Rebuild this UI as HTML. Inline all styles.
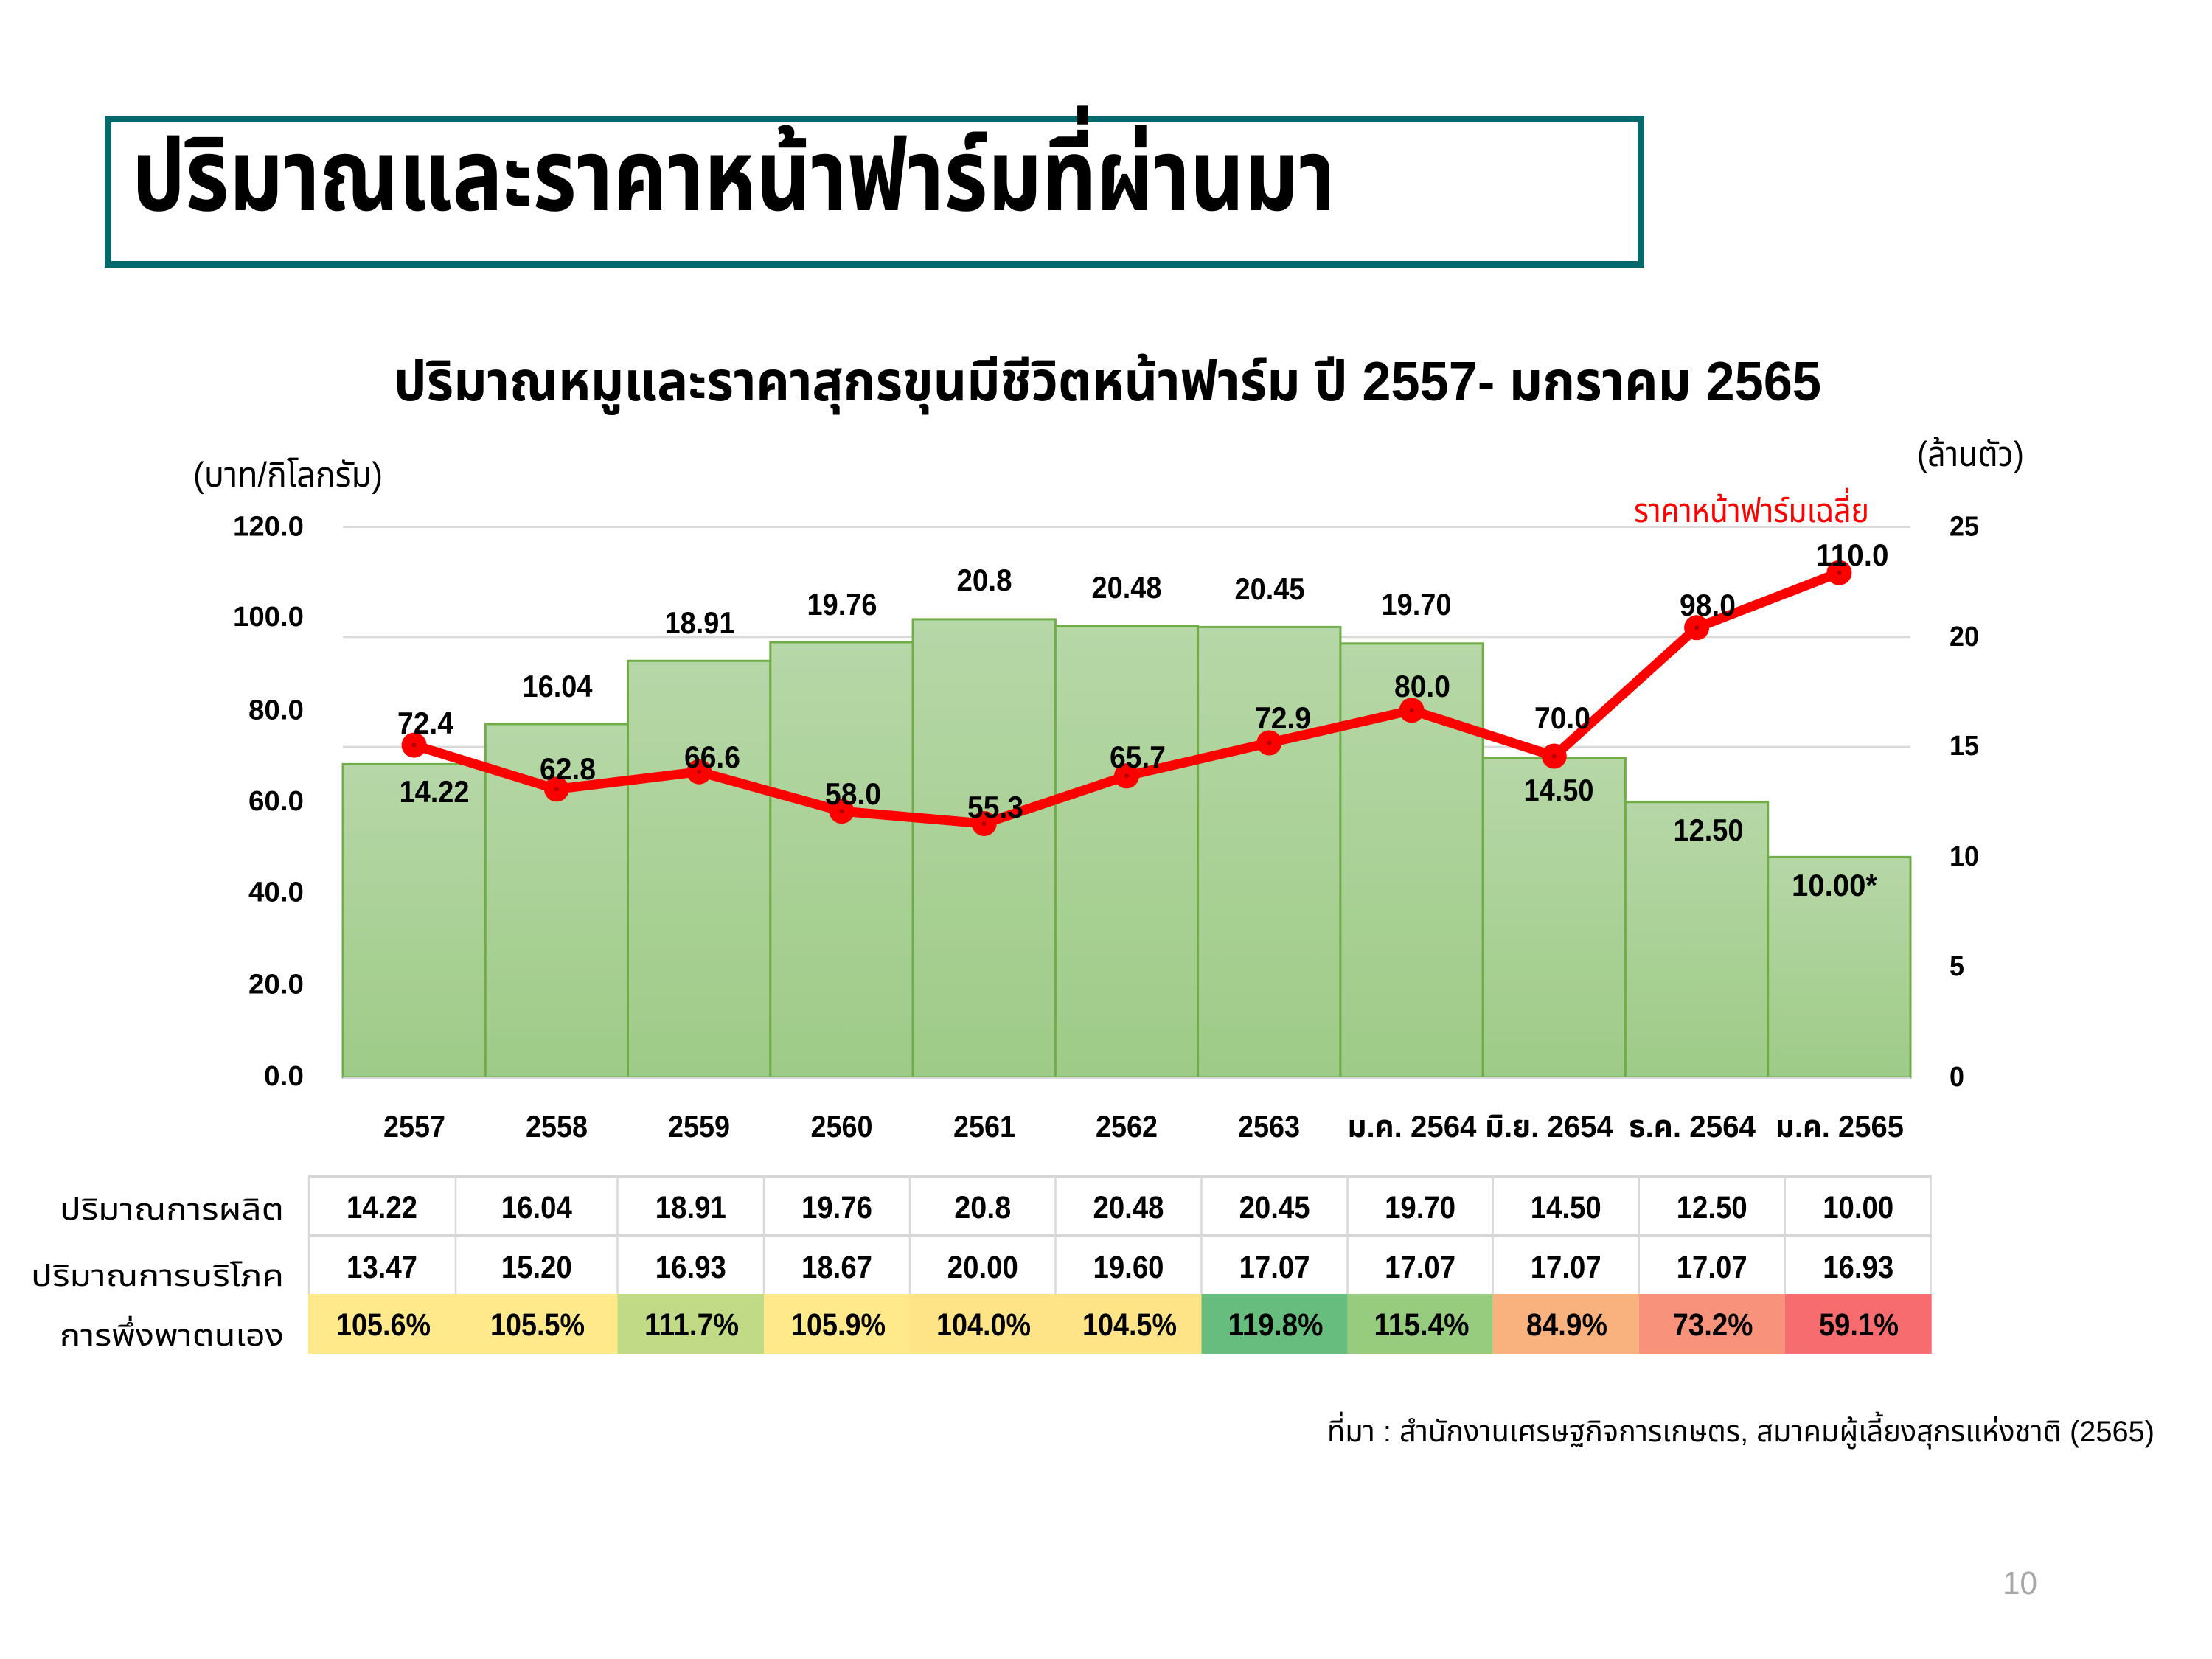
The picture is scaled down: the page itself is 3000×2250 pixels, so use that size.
<!DOCTYPE html>
<html><head><meta charset="utf-8">
<style>
html,body{margin:0;padding:0;background:#fff;}
svg{display:block;}
.th{font-family:"Liberation Sans","Noto Sans Thai","Noto Sans CJK SC",sans-serif;}
.n{font-family:"Liberation Sans",sans-serif;font-weight:bold;}
</style></head>
<body>
<svg width="3000" height="2250" viewBox="0 0 3000 2250" xmlns="http://www.w3.org/2000/svg">
<defs>
<linearGradient id="g" x1="0" y1="0" x2="0" y2="1">
<stop offset="0" stop-color="#b6d7a7"/>
<stop offset="1" stop-color="#9ecb87"/>
</linearGradient>
</defs>
<rect width="3000" height="2250" fill="#fff"/>

<!-- Title box -->
<rect x="146.5" y="161.5" width="2079" height="197" fill="#fff" stroke="#03696a" stroke-width="9"/>
<text class="th" x="179" y="285" font-size="136" font-weight="bold" fill="#000" textLength="1632" lengthAdjust="spacingAndGlyphs">ปริมาณและราคาหน้าฟาร์มที่ผ่านมา</text>

<!-- Subtitle -->
<text class="th" x="534" y="543" font-size="75" font-weight="bold" fill="#000" textLength="1936" lengthAdjust="spacingAndGlyphs">ปริมาณหมูและราคาสุกรขุนมีชีวิตหน้าฟาร์ม ปี 2557- มกราคม 2565</text>

<!-- axis unit labels -->
<text class="th" x="262" y="660" font-size="47" fill="#000" textLength="257" lengthAdjust="spacingAndGlyphs">(บาท/กิโลกรัม)</text>
<text class="th" x="2600" y="632" font-size="47" fill="#000" textLength="145" lengthAdjust="spacingAndGlyphs">(ล้านตัว)</text>
<text class="th" x="2216" y="708" font-size="46" fill="#ff0000" textLength="319" lengthAdjust="spacingAndGlyphs">ราคาหน้าฟาร์มเฉลี่ย</text>

<!-- gridlines -->
<g stroke="#d9d9d9" stroke-width="3">
<line x1="465" y1="714.5" x2="2591" y2="714.5"/>
<line x1="465" y1="863.8" x2="2591" y2="863.8"/>
<line x1="465" y1="1013.1" x2="2591" y2="1013.1"/>
<line x1="465" y1="1162.4" x2="2591" y2="1162.4"/>
<line x1="465" y1="1311.7" x2="2591" y2="1311.7"/>
</g>

<!-- bars -->
<g fill="url(#g)" stroke="#70ad47" stroke-width="3">
<rect x="465.0" y="1036.4" width="193.3" height="424.6"/>
<rect x="658.3" y="982.0" width="193.2" height="479.0"/>
<rect x="851.5" y="896.3" width="193.3" height="564.7"/>
<rect x="1044.8" y="871.0" width="193.3" height="590.0"/>
<rect x="1238.1" y="839.9" width="193.3" height="621.1"/>
<rect x="1431.4" y="849.5" width="193.2" height="611.5"/>
<rect x="1624.6" y="850.4" width="193.3" height="610.6"/>
<rect x="1817.9" y="872.8" width="193.3" height="588.2"/>
<rect x="2011.2" y="1028.0" width="193.2" height="433.0"/>
<rect x="2204.4" y="1087.7" width="193.3" height="373.3"/>
<rect x="2397.7" y="1162.4" width="193.3" height="298.6"/>
</g>
<line x1="465" y1="1462" x2="2591" y2="1462" stroke="#d9d9d9" stroke-width="3"/>

<!-- bar value labels -->
<g class="n" font-size="42" fill="#000" text-anchor="middle">
<text x="589" y="1088" textLength="95" lengthAdjust="spacingAndGlyphs">14.22</text>
<text x="756" y="945" textLength="95" lengthAdjust="spacingAndGlyphs">16.04</text>
<text x="949" y="859" textLength="95" lengthAdjust="spacingAndGlyphs">18.91</text>
<text x="1142" y="834" textLength="95" lengthAdjust="spacingAndGlyphs">19.76</text>
<text x="1335" y="801" textLength="75" lengthAdjust="spacingAndGlyphs">20.8</text>
<text x="1528" y="811" textLength="95" lengthAdjust="spacingAndGlyphs">20.48</text>
<text x="1722" y="813" textLength="95" lengthAdjust="spacingAndGlyphs">20.45</text>
<text x="1921" y="834" textLength="95" lengthAdjust="spacingAndGlyphs">19.70</text>
<text x="2114" y="1086" textLength="95" lengthAdjust="spacingAndGlyphs">14.50</text>
<text x="2317" y="1140" textLength="95" lengthAdjust="spacingAndGlyphs">12.50</text>
<text x="2488" y="1215" textLength="116" lengthAdjust="spacingAndGlyphs">10.00*</text>
</g>

<!-- price line -->
<polyline points="561.6,1010.6 754.9,1070.3 948.2,1046.7 1141.5,1100.2 1334.7,1117 1528,1052.3 1721.3,1007.5 1914.6,963.3 2107.8,1025.5 2301.1,851.3 2494.4,776.7" fill="none" stroke="#ff0000" stroke-width="13" stroke-linejoin="round"/>
<g fill="#ff0000">
<circle cx="561.6" cy="1010.6" r="17"/>
<circle cx="754.9" cy="1070.3" r="17"/>
<circle cx="948.2" cy="1046.7" r="17"/>
<circle cx="1141.5" cy="1100.2" r="17"/>
<circle cx="1334.7" cy="1117" r="17"/>
<circle cx="1528" cy="1052.3" r="17"/>
<circle cx="1721.3" cy="1007.5" r="17"/>
<circle cx="1914.6" cy="963.3" r="17"/>
<circle cx="2107.8" cy="1025.5" r="17"/>
<circle cx="2301.1" cy="851.3" r="17"/>
<circle cx="2494.4" cy="776.7" r="17"/>
</g>
<g fill="#b00000">
<circle cx="561.6" cy="1010.6" r="3"/>
<circle cx="754.9" cy="1070.3" r="3"/>
<circle cx="948.2" cy="1046.7" r="3"/>
<circle cx="1141.5" cy="1100.2" r="3"/>
<circle cx="1334.7" cy="1117" r="3"/>
<circle cx="1528" cy="1052.3" r="3"/>
<circle cx="1721.3" cy="1007.5" r="3"/>
<circle cx="1914.6" cy="963.3" r="3"/>
<circle cx="2107.8" cy="1025.5" r="3"/>
<circle cx="2301.1" cy="851.3" r="3"/>
<circle cx="2494.4" cy="776.7" r="3"/>
</g>

<!-- price labels -->
<g class="n" font-size="42" fill="#000" text-anchor="middle">
<text x="577" y="995" textLength="76" lengthAdjust="spacingAndGlyphs">72.4</text>
<text x="770" y="1057" textLength="76" lengthAdjust="spacingAndGlyphs">62.8</text>
<text x="966" y="1041" textLength="76" lengthAdjust="spacingAndGlyphs">66.6</text>
<text x="1157" y="1091" textLength="76" lengthAdjust="spacingAndGlyphs">58.0</text>
<text x="1350" y="1109" textLength="76" lengthAdjust="spacingAndGlyphs">55.3</text>
<text x="1543" y="1041" textLength="76" lengthAdjust="spacingAndGlyphs">65.7</text>
<text x="1740" y="988" textLength="76" lengthAdjust="spacingAndGlyphs">72.9</text>
<text x="1929" y="945" textLength="76" lengthAdjust="spacingAndGlyphs">80.0</text>
<text x="2119" y="988" textLength="76" lengthAdjust="spacingAndGlyphs">70.0</text>
<text x="2316" y="835" textLength="76" lengthAdjust="spacingAndGlyphs">98.0</text>
<text x="2512" y="767" textLength="99" lengthAdjust="spacingAndGlyphs">110.0</text>
</g>

<!-- left axis labels -->
<g class="n" font-size="38" fill="#000" text-anchor="end">
<text x="412" y="726.5" textLength="96" lengthAdjust="spacingAndGlyphs">120.0</text>
<text x="412" y="849" textLength="96" lengthAdjust="spacingAndGlyphs">100.0</text>
<text x="412" y="975.5" textLength="75" lengthAdjust="spacingAndGlyphs">80.0</text>
<text x="412" y="1099" textLength="75" lengthAdjust="spacingAndGlyphs">60.0</text>
<text x="412" y="1222.5" textLength="75" lengthAdjust="spacingAndGlyphs">40.0</text>
<text x="412" y="1347.5" textLength="75" lengthAdjust="spacingAndGlyphs">20.0</text>
<text x="412" y="1472" textLength="54" lengthAdjust="spacingAndGlyphs">0.0</text>
</g>
<!-- right axis labels -->
<g class="n" font-size="38" fill="#000" text-anchor="start">
<text x="2644" y="726.5" textLength="40" lengthAdjust="spacingAndGlyphs">25</text>
<text x="2644" y="876" textLength="40" lengthAdjust="spacingAndGlyphs">20</text>
<text x="2644" y="1024" textLength="40" lengthAdjust="spacingAndGlyphs">15</text>
<text x="2644" y="1174" textLength="40" lengthAdjust="spacingAndGlyphs">10</text>
<text x="2644" y="1323" textLength="20" lengthAdjust="spacingAndGlyphs">5</text>
<text x="2644" y="1473" textLength="20" lengthAdjust="spacingAndGlyphs">0</text>
</g>

<!-- x category labels -->
<g class="n" font-size="42" fill="#000" text-anchor="middle">
<text x="562" y="1542" textLength="84" lengthAdjust="spacingAndGlyphs">2557</text>
<text x="755" y="1542" textLength="84" lengthAdjust="spacingAndGlyphs">2558</text>
<text x="948" y="1542" textLength="84" lengthAdjust="spacingAndGlyphs">2559</text>
<text x="1141.5" y="1542" textLength="84" lengthAdjust="spacingAndGlyphs">2560</text>
<text x="1335" y="1542" textLength="84" lengthAdjust="spacingAndGlyphs">2561</text>
<text x="1528" y="1542" textLength="84" lengthAdjust="spacingAndGlyphs">2562</text>
<text x="1721" y="1542" textLength="84" lengthAdjust="spacingAndGlyphs">2563</text>
</g>
<g class="th" font-size="42" font-weight="bold" fill="#000" text-anchor="middle">
<text x="1915" y="1542" textLength="175" lengthAdjust="spacingAndGlyphs">ม.ค. 2564</text>
<text x="2101" y="1542" textLength="174" lengthAdjust="spacingAndGlyphs">มิ.ย. 2654</text>
<text x="2295" y="1542" textLength="172" lengthAdjust="spacingAndGlyphs">ธ.ค. 2564</text>
<text x="2495" y="1542" textLength="174" lengthAdjust="spacingAndGlyphs">ม.ค. 2565</text>
</g>

<!-- table -->
<g>
<rect x="418" y="1755" width="200" height="81" fill="#ffe98a"/>
<rect x="618" y="1755" width="219.5" height="81" fill="#ffe98a"/>
<rect x="837.5" y="1755" width="198.5" height="81" fill="#c1da86"/>
<rect x="1036" y="1755" width="198" height="81" fill="#ffe98a"/>
<rect x="1234" y="1755" width="197.5" height="81" fill="#fee487"/>
<rect x="1431.5" y="1755" width="198" height="81" fill="#fee487"/>
<rect x="1629.5" y="1755" width="198.1" height="81" fill="#66bd7d"/>
<rect x="1827.6" y="1755" width="197" height="81" fill="#97cb7e"/>
<rect x="2024.6" y="1755" width="198.1" height="81" fill="#f9b27e"/>
<rect x="2222.7" y="1755" width="198" height="81" fill="#f8927a"/>
<rect x="2420.7" y="1755" width="199" height="81" fill="#f66c6f"/>
</g>
<g stroke="#d6d6d6" stroke-width="3">
<line x1="418" y1="1595.5" x2="2620" y2="1595.5" stroke-width="4"/>
<line x1="418" y1="1676" x2="2620" y2="1676" stroke-width="4"/>
</g>
<g stroke="#d9d9d9" stroke-width="2.5">
<line x1="419" y1="1594" x2="419" y2="1755"/>
<line x1="618" y1="1594" x2="618" y2="1755"/>
<line x1="837.5" y1="1594" x2="837.5" y2="1755"/>
<line x1="1036" y1="1594" x2="1036" y2="1755"/>
<line x1="1234" y1="1594" x2="1234" y2="1755"/>
<line x1="1431.5" y1="1594" x2="1431.5" y2="1755"/>
<line x1="1629.5" y1="1594" x2="1629.5" y2="1755"/>
<line x1="1827.6" y1="1594" x2="1827.6" y2="1755"/>
<line x1="2024.6" y1="1594" x2="2024.6" y2="1755"/>
<line x1="2222.7" y1="1594" x2="2222.7" y2="1755"/>
<line x1="2420.7" y1="1594" x2="2420.7" y2="1755"/>
<line x1="2618.5" y1="1594" x2="2618.5" y2="1755"/>
</g>

<g class="n" font-size="43" fill="#000" text-anchor="middle">
<text x="518" y="1652" textLength="96" lengthAdjust="spacingAndGlyphs">14.22</text>
<text x="727.8" y="1652" textLength="96" lengthAdjust="spacingAndGlyphs">16.04</text>
<text x="936.8" y="1652" textLength="96" lengthAdjust="spacingAndGlyphs">18.91</text>
<text x="1135" y="1652" textLength="96" lengthAdjust="spacingAndGlyphs">19.76</text>
<text x="1332.8" y="1652" textLength="77" lengthAdjust="spacingAndGlyphs">20.8</text>
<text x="1530.5" y="1652" textLength="96" lengthAdjust="spacingAndGlyphs">20.48</text>
<text x="1728.6" y="1652" textLength="96" lengthAdjust="spacingAndGlyphs">20.45</text>
<text x="1926.1" y="1652" textLength="96" lengthAdjust="spacingAndGlyphs">19.70</text>
<text x="2123.7" y="1652" textLength="96" lengthAdjust="spacingAndGlyphs">14.50</text>
<text x="2321.7" y="1652" textLength="96" lengthAdjust="spacingAndGlyphs">12.50</text>
<text x="2520.2" y="1652" textLength="96" lengthAdjust="spacingAndGlyphs">10.00</text>

<text x="518" y="1733" textLength="96" lengthAdjust="spacingAndGlyphs">13.47</text>
<text x="727.8" y="1733" textLength="96" lengthAdjust="spacingAndGlyphs">15.20</text>
<text x="936.8" y="1733" textLength="96" lengthAdjust="spacingAndGlyphs">16.93</text>
<text x="1135" y="1733" textLength="96" lengthAdjust="spacingAndGlyphs">18.67</text>
<text x="1332.8" y="1733" textLength="96" lengthAdjust="spacingAndGlyphs">20.00</text>
<text x="1530.5" y="1733" textLength="96" lengthAdjust="spacingAndGlyphs">19.60</text>
<text x="1728.6" y="1733" textLength="96" lengthAdjust="spacingAndGlyphs">17.07</text>
<text x="1926.1" y="1733" textLength="96" lengthAdjust="spacingAndGlyphs">17.07</text>
<text x="2123.7" y="1733" textLength="96" lengthAdjust="spacingAndGlyphs">17.07</text>
<text x="2321.7" y="1733" textLength="96" lengthAdjust="spacingAndGlyphs">17.07</text>
<text x="2520.2" y="1733" textLength="96" lengthAdjust="spacingAndGlyphs">16.93</text>

<text x="520" y="1811" textLength="128" lengthAdjust="spacingAndGlyphs">105.6%</text>
<text x="729" y="1811" textLength="128" lengthAdjust="spacingAndGlyphs">105.5%</text>
<text x="938" y="1811" textLength="128" lengthAdjust="spacingAndGlyphs">111.7%</text>
<text x="1137" y="1811" textLength="128" lengthAdjust="spacingAndGlyphs">105.9%</text>
<text x="1334" y="1811" textLength="128" lengthAdjust="spacingAndGlyphs">104.0%</text>
<text x="1532" y="1811" textLength="128" lengthAdjust="spacingAndGlyphs">104.5%</text>
<text x="1730" y="1811" textLength="129" lengthAdjust="spacingAndGlyphs">119.8%</text>
<text x="1928" y="1811" textLength="129" lengthAdjust="spacingAndGlyphs">115.4%</text>
<text x="2125" y="1811" textLength="110" lengthAdjust="spacingAndGlyphs">84.9%</text>
<text x="2323" y="1811" textLength="109" lengthAdjust="spacingAndGlyphs">73.2%</text>
<text x="2521" y="1811" textLength="108" lengthAdjust="spacingAndGlyphs">59.1%</text>
</g>

<!-- row labels -->
<g class="th" font-size="40" fill="#000" text-anchor="end">
<text x="385" y="1654" textLength="304" lengthAdjust="spacingAndGlyphs">ปริมาณการผลิต</text>
<text x="385" y="1744" textLength="343" lengthAdjust="spacingAndGlyphs">ปริมาณการบริโภค</text>
<text x="385" y="1825" textLength="304" lengthAdjust="spacingAndGlyphs">การพึ่งพาตนเอง</text>
</g>

<!-- footnote -->
<text class="th" x="1800" y="1955" font-size="40" fill="#000" textLength="1122" lengthAdjust="spacingAndGlyphs">ที่มา : สำนักงานเศรษฐกิจการเกษตร, สมาคมผู้เลี้ยงสุกรแห่งชาติ (2565)</text>

<!-- page number -->
<text x="2716" y="2162" font-family="Liberation Sans, sans-serif" font-size="44" fill="#a6a6a6" textLength="47" lengthAdjust="spacingAndGlyphs">10</text>
</svg>
</body></html>
